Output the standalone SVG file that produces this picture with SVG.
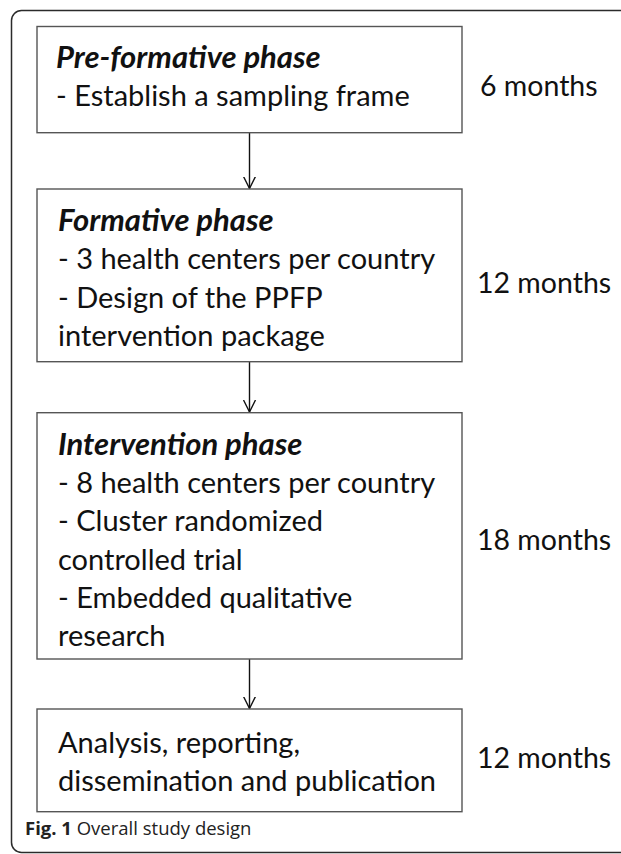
<svg xmlns="http://www.w3.org/2000/svg" width="621" height="854" viewBox="0 0 621 854">
<defs>
<style>
.frame{fill:none;stroke:#2b2b2b;stroke-width:1.5}
.box{fill:#ffffff;stroke:#555555;stroke-width:1.4}
.t{font-family:Lato,"Open Sans",sans-serif;font-size:29px;fill:#111111}
.h{font-family:Lato,"Open Sans",sans-serif;font-size:31px;font-weight:bold;font-style:italic;fill:#111111}
.m{font-family:Lato,"Open Sans",sans-serif;font-size:28.5px;fill:#111111}
.cap{font-family:"Open Sans","Noto Sans",sans-serif;font-size:18.5px;fill:#222222}
.conn{stroke:#111111;stroke-width:1.4;fill:none}
</style>
<marker id="arr" markerWidth="14" markerHeight="14" refX="12" refY="7" orient="auto" markerUnits="userSpaceOnUse" viewBox="0 0 14 14">
<path d="M0,1 L12,7 L0,13" fill="none" stroke="#111111" stroke-width="1.4"/>
</marker>
</defs>
<rect width="621" height="854" fill="#ffffff"/>
<rect class="frame" x="11.5" y="10.5" width="700" height="842" rx="10" ry="10"/>

<g id="connectors">
<line class="conn" x1="249.5" y1="132.7" x2="249.5" y2="188.5" marker-end="url(#arr)"/>
<line class="conn" x1="249.5" y1="361.7" x2="249.5" y2="412" marker-end="url(#arr)"/>
<line class="conn" x1="249.5" y1="659" x2="249.5" y2="708.5" marker-end="url(#arr)"/>
</g>

<g id="node-preformative">
<rect class="box" x="37" y="26.5" width="425" height="106.2"/>
<text class="h" x="56" y="68">Pre-formative phase</text>
<text class="t" x="56" y="106">- Establish a sampling frame</text>
</g>
<text class="m" x="480" y="96">6 months</text>

<g id="node-formative">
<rect class="box" x="37" y="189" width="425" height="172.7"/>
<text class="h" x="58" y="231">Formative phase</text>
<text class="t" x="58" y="269.3">- 3 health centers per country</text>
<text class="t" x="58" y="307.6">- Design of the PPFP</text>
<text class="t" x="58" y="346">intervention package</text>
</g>
<text class="m" x="477" y="293">12 months</text>

<g id="node-intervention">
<rect class="box" x="37" y="412.7" width="425" height="246.3"/>
<text class="h" x="58" y="455">Intervention phase</text>
<text class="t" x="58" y="493">- 8 health centers per country</text>
<text class="t" x="58" y="531.3">- Cluster randomized</text>
<text class="t" x="58" y="569.6">controlled trial</text>
<text class="t" x="58" y="608">- Embedded qualitative</text>
<text class="t" x="58" y="646.3">research</text>
</g>
<text class="m" x="477" y="550">18 months</text>

<g id="node-analysis">
<rect class="box" x="37" y="709" width="425" height="102.7"/>
<text class="t" x="58" y="753">Analysis, reporting,</text>
<text class="t" x="58" y="791">dissemination and publication</text>
</g>
<text class="m" x="477" y="768">12 months</text>

<text class="cap" x="25" y="835"><tspan font-weight="bold">Fig. 1</tspan> Overall study design</text>
</svg>
